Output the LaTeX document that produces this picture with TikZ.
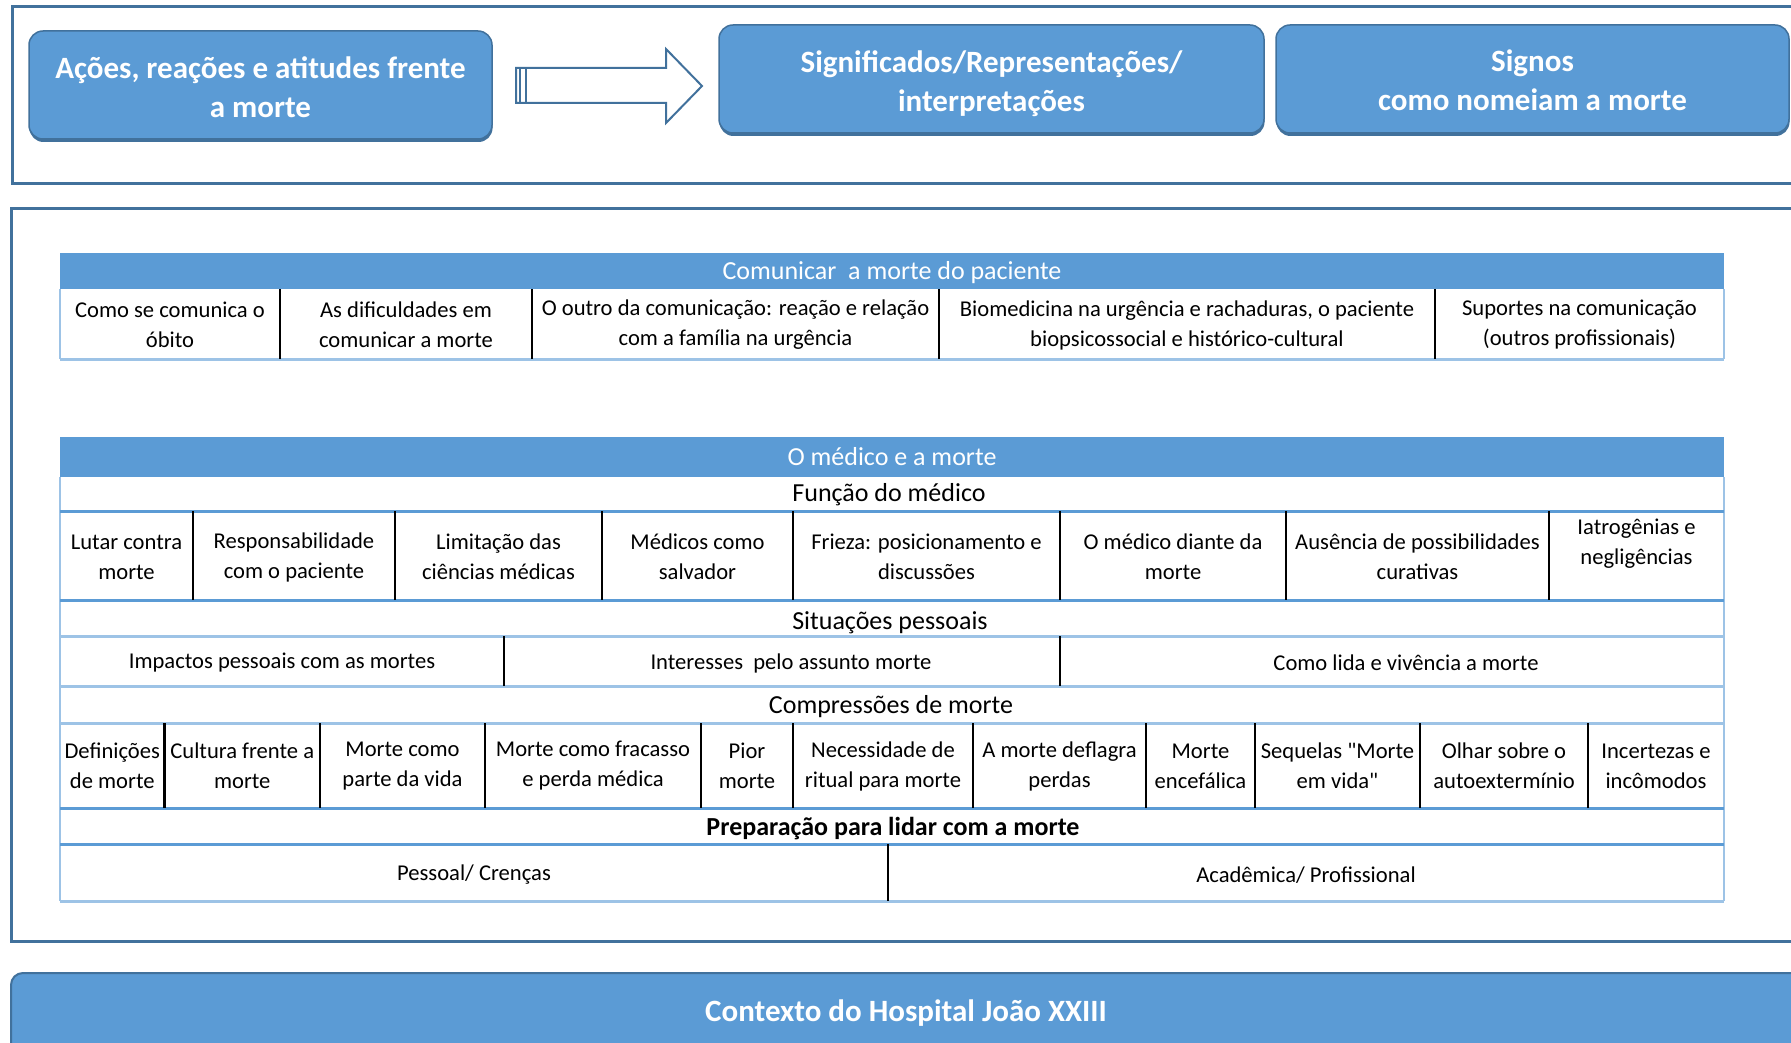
\documentclass[tikz,border=0pt]{standalone}
\usepackage{fontspec}
\setmainfont{Carlito}[Ligatures=TeXOff]
\usetikzlibrary{shadows}
\definecolor{boxblue}{HTML}{5B9BD5}
\definecolor{boxedge}{HTML}{41719C}
\definecolor{linemid}{HTML}{5B9BD5}
\definecolor{linelight}{HTML}{9DC3E6}
\begin{document}
\begin{tikzpicture}[x=1pt,y=-1pt,
  frame/.style={draw=boxedge, line width=3pt},
  bigbox/.style={draw=boxedge, fill=boxblue, line width=1.5pt, rounded corners=14pt,
    inner sep=0pt,
    drop shadow={shadow xshift=0.5pt, shadow yshift=-3pt, fill=boxedge, opacity=1}},
  bigtxt/.style={text=white, align=center, inner sep=0pt,
    font=\bfseries\fontsize{31}{39}\selectfont},
  arrowline/.style={draw=boxedge, line width=2pt},
  hdrfill/.style={fill=boxblue},
  hdrtxt/.style={text=white, inner sep=0pt, font=\fontsize{26}{30}\selectfont},
  sectxt/.style={text=black, inner sep=0pt, font=\fontsize{26}{30}\selectfont},
  sectxtb/.style={text=black, inner sep=0pt, font=\bfseries\fontsize{26}{30}\selectfont},
  celltxt/.style={text=black, inner sep=0pt, align=center, font=\fontsize{22.6}{30}\selectfont},
  sep/.style={draw=black, line width=2.5pt},
  rulemid/.style={draw=linemid, line width=3pt},
  rulelight/.style={draw=linelight, line width=3pt},
  edge/.style={draw=linelight, line width=1.5pt}
]
\clip (0,0) rectangle (1791,1043);
\fill[white] (0,0) rectangle (1791,1043);

% ---------- top frame ----------
\draw[frame] (12,7) rectangle (1810,184);
\node[bigbox, minimum width=463pt, minimum height=108pt] (acoes) at (260.5,85) {};
\node[bigtxt] (acoestxt) at (260.5,87.5) {Ações, reações e atitudes frente\\a morte};
\node[bigbox, minimum width=545pt, minimum height=108pt] (signif) at (991.5,79) {};
\node[bigtxt] (signiftxt) at (991.5,83.5) {Significados/Representações/\\interpretações};
\node[bigbox, minimum width=513pt, minimum height=108pt] (signos) at (1532.5,79) {};
\node[bigtxt] (signostxt) at (1532.5,80.5) {Signos\\como nomeiam a morte};

% block arrow
\draw[arrowline, fill=white] (516,68) -- (666,68) -- (666,49) -- (702,86) -- (666,123)
  -- (666,103) -- (516,103) -- cycle;
\draw[arrowline] (520,68) -- (520,103);
\draw[arrowline] (526,68) -- (526,103);

% ---------- middle frame ----------
\draw[frame] (11,209) rectangle (1810,941);

% ---- table: Comunicar a morte do paciente ----
\fill[hdrfill] (60,253) rectangle (1724,289);
\node[hdrtxt] (comh) at (892,273) {Comunicar\ \ a morte do paciente};
\draw[edge] (60,289) -- (60,359);
\draw[edge] (1724,289) -- (1724,359);
\draw[rulelight] (60,359) -- (1724,359);
\foreach \x in {280,532,939,1435} \draw[sep] (\x,289) -- (\x,359);
\node[celltxt] (c1) at (170,325) {Como se comunica o\\óbito};
\node[celltxt] (c2) at (406,325) {As dificuldades em\\comunicar a morte};
\node[celltxt] (c3) at (735.5,325) {O outro da comunicação: reação e relação\\com a família na urgência};
\node[celltxt] (c4) at (1187,325) {Biomedicina na urgência e rachaduras, o paciente\\biopsicossocial e histórico-cultural};
\node[celltxt] (c5) at (1579.5,325) {Suportes na comunicação\\(outros profissionais)};

% ---- table: O médico e a morte ----
\fill[hdrfill] (60,437) rectangle (1724,477);
\node[hdrtxt] (medh) at (892,457) {O médico e a morte};
\draw[edge] (60,477) -- (60,901);
\draw[edge] (1724,477) -- (1724,901);
\draw[rulemid] (60,511) -- (1724,511);
\draw[rulemid] (60,600) -- (1724,600);
\draw[rulelight] (60,636) -- (1724,636);
\draw[rulelight] (60,686) -- (1724,686);
\draw[rulelight] (60,723) -- (1724,723);
\draw[rulemid] (60,808) -- (1724,808);
\draw[rulemid] (60,844) -- (1724,844);
\draw[rulelight] (60,901) -- (1724,901);

% Função do médico
\node[sectxt] (funcao) at (889,495) {Função do médico};
\foreach \x in {193,395,602,793,1060,1286,1549} \draw[sep] (\x,511) -- (\x,600);
\node[celltxt] (f1) at (126.5,557) {Lutar contra\\morte};
\node[celltxt] (f2) at (294,557) {Responsabilidade\\com o paciente};
\node[celltxt] (f3) at (498.5,557) {Limitação das\\ciências médicas};
\node[celltxt] (f4) at (697.5,557) {Médicos como\\salvador};
\node[celltxt] (f5) at (926.5,557) {Frieza: posicionamento e\\discussões};
\node[celltxt] (f6) at (1173,557) {O médico diante da\\morte};
\node[celltxt] (f7) at (1417.5,557) {Ausência de possibilidades\\curativas};
\node[celltxt] (f8) at (1636.5,543.5) {Iatrogênias e\\negligências};

% Situações pessoais
\node[sectxt] (situ) at (890,622.5) {Situações pessoais};
\foreach \x in {504,1060} \draw[sep] (\x,636) -- (\x,686);
\node[celltxt] (s1) at (282,663) {Impactos pessoais com as mortes};
\node[celltxt] (s2) at (791,663) {Interesses\ \ pelo assunto morte};
\node[celltxt] (s3) at (1406,663) {Como lida e vivência a morte};

% Compressões de morte
\node[sectxt] (compr) at (891,707) {Compressões de morte};
\foreach \x in {164.5,320,485,701,793,973,1146,1255,1420,1588} \draw[sep] (\x,723) -- (\x,808);
\node[celltxt] (m1) at (112.25,766) {Definições\\de morte};
\node[celltxt] (m2) at (242.25,766) {Cultura frente a\\morte};
\node[celltxt] (m3) at (402.5,766) {Morte como\\parte da vida};
\node[celltxt] (m4) at (593,766) {Morte como fracasso\\e perda médica};
\node[celltxt] (m5) at (747,766) {Pior\\morte};
\node[celltxt] (m6) at (883,766) {Necessidade de\\ritual para morte};
\node[celltxt] (m7) at (1059.5,766) {A morte deflagra\\perdas};
\node[celltxt] (m8) at (1200.5,766) {Morte\\encefálica};
\node[celltxt] (m9) at (1337.5,766) {Sequelas "Morte\\em vida"};
\node[celltxt] (m10) at (1504,766) {Olhar sobre o\\autoextermínio};
\node[celltxt] (m11) at (1656,766) {Incertezas e\\incômodos};

% Preparação para lidar com a morte
\node[sectxtb] (prep) at (893,829) {Preparação para lidar com a morte};
\draw[sep] (888,844) -- (888,901);
\node[celltxt] (p1) at (474,875) {Pessoal/ Crenças};
\node[celltxt] (p2) at (1306,875) {Acadêmica/ Profissional};

% ---------- bottom bar ----------
\draw[draw=boxedge, fill=boxblue, line width=2pt, rounded corners=12pt] (11,973) rectangle (1820,1080);
\node[text=white, inner sep=0pt, font=\bfseries\fontsize{31}{39}\selectfont] (ctx) at (906,1013)
  {Contexto do Hospital João XXIII};
\end{tikzpicture}
\end{document}
